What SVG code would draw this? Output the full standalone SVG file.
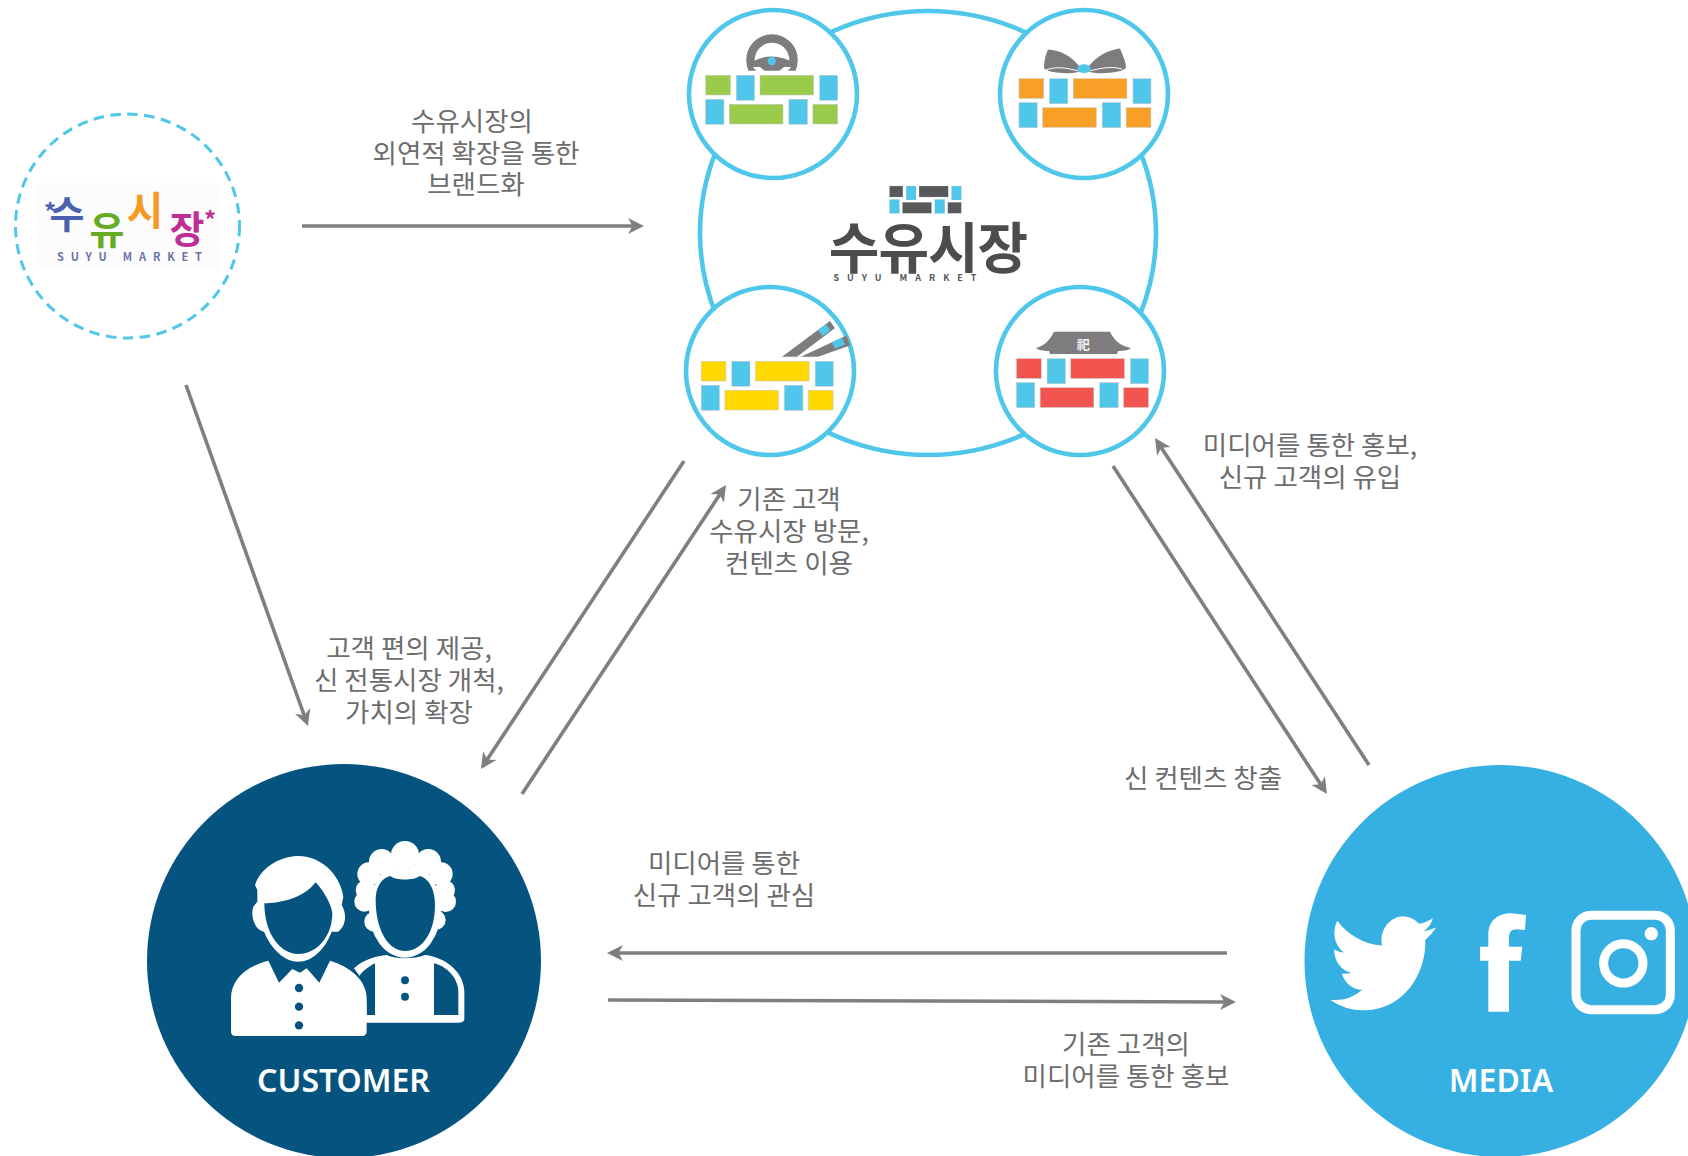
<svg xmlns="http://www.w3.org/2000/svg" xmlns:xlink="http://www.w3.org/1999/xlink" width="1688" height="1156" viewBox="0 0 1688 1156">
<style>
text{font-family:"Noto Sans CJK KR","Noto Sans",sans-serif}
.lbl{font-size:26.500px;fill:#6d6d6d;text-anchor:middle}
.cap{font-size:32px;font-weight:600;fill:#fff;text-anchor:middle;font-family:"Noto Sans","Noto Sans CJK KR",sans-serif}
.conn{stroke:#7f7f7f;stroke-width:3.6;fill:none;marker-end:url(#arrow)}
.ring{fill:#fff;stroke:#4fc7ea;stroke-width:4.6}
.blue{fill:#4fc7ea}
.gray{fill:#7f7c7f}
.br rect{stroke:#c4c4c4;stroke-width:.5}
.wh{fill:#fff}
.dk{fill:#05547f}
.tw{fill:#fff}
</style>
<defs>
<marker id="arrow" markerUnits="userSpaceOnUse" viewBox="-18 -10 20 20" refX="-8" refY="0" markerWidth="20" markerHeight="20" orient="auto">
<path d="M-16,-8 L0,0 L-16,8 L-11.5,0 Z" fill="#7f7f7f"/>
</marker>
<g id="bricks" class="br">
<rect x="0" y="0" width="24.7" height="19.7"/>
<rect class="blue" x="30.6" y="0" width="18.2" height="25"/>
<rect x="54.3" y="0" width="53.6" height="19.7"/>
<rect class="blue" x="114" y="0" width="18" height="25"/>
<rect class="blue" x="0" y="24" width="18.2" height="25"/>
<rect x="23.7" y="29" width="53.6" height="19.7"/>
<rect class="blue" x="83.2" y="24" width="18.5" height="25"/>
<rect x="107.2" y="29" width="24.7" height="19.7"/>
</g>
</defs>
<rect width="1688" height="1156" fill="#fff"/>

<g id="connectors">
<line class="conn" x1="302" y1="226" x2="636" y2="226"/>
<line class="conn" x1="186" y1="385" x2="305.3" y2="718.5"/>
<line class="conn" x1="684" y1="461" x2="485.4" y2="762.3"/>
<line class="conn" x1="522" y1="794" x2="721.6" y2="491.7"/>
<line class="conn" x1="1113" y1="466" x2="1322.6" y2="787.3"/>
<line class="conn" x1="1369" y1="765" x2="1159.4" y2="444.7"/>
<line class="conn" x1="1227" y1="953" x2="615" y2="953"/>
<line class="conn" x1="608" y1="1000" x2="1228" y2="1002"/>
</g>

<g id="node-old-market">
<circle cx="127.500" cy="226" r="112" fill="none" stroke="#4fc7ea" stroke-width="3" stroke-dasharray="10.5 6.5"/>
<rect x="38" y="183" width="182" height="87" fill="#fcfcfd"/>
<text x="67" y="228" font-size="38" font-weight="700" fill="#4a62ad" text-anchor="middle">수</text>
<text x="107" y="244" font-size="38" font-weight="700" fill="#66ab24" text-anchor="middle">유</text>
<text x="145" y="225" font-size="40" font-weight="700" fill="#f59a23" text-anchor="middle">시</text>
<text x="187" y="243" font-size="38" font-weight="700" fill="#bd2f95" text-anchor="middle">장</text>
<text x="50" y="221" font-size="24" font-weight="700" fill="#4a62ad" text-anchor="middle">*</text>
<text x="210" y="229" font-size="24" font-weight="700" fill="#bd2f95" text-anchor="middle">*</text>
<text x="57" y="261" font-size="11" font-weight="700" fill="#6a74a8" letter-spacing="6.8">SUYU MARKET</text>
</g>

<g id="node-suyu-market">
<ellipse class="ring" cx="928" cy="233" rx="228" ry="222"/>
<use href="#bricks" fill="#58595b" transform="translate(889.500,186) scale(.544,.56)"/>
<text x="928" y="268" font-size="55" font-weight="700" fill="#4d4d4f" text-anchor="middle" letter-spacing="-1">수유시장</text>
<text x="833.5" y="281" font-size="9" font-weight="700" fill="#555" letter-spacing="8">SUYU MARKET</text>
</g>

<g id="node-drive">
<circle class="ring" cx="773" cy="94" r="84"/>
<clipPath id="cw"><rect x="740" y="30" width="64" height="40.7"/></clipPath>
<g clip-path="url(#cw)">
<circle cx="772" cy="60" r="21.500" fill="none" stroke="#7f7c7f" stroke-width="8.5"/>
<path class="gray" d="M750,63 Q772,50 794,63 L792,68 L781,71 L763,71 L752,68 Z"/>
<path fill="#fff" d="M756,71 L753,67 L760,67 L765,71 Z M788,71 L791,67 L784,67 L779,71 Z"/>
</g>
<circle class="blue" cx="771.7" cy="61" r="4.2"/>
<use href="#bricks" x="705.7" y="75.3" fill="#9bcb4b"/>
</g>

<g id="node-gift">
<circle class="ring" cx="1084" cy="94" r="84"/>
<path class="gray" d="M1079,66 C1071,56 1060,50 1048,49.5 C1045,56 1044,62 1044,68 C1046,72 1065,75 1079,72 Z"/>
<path class="gray" d="M1089,66 C1097,56 1108,50 1120,48.5 C1123,56 1126,62 1126,68 C1122,72 1104,75 1089,72 Z"/>
<path d="M1046,70 C1056,66 1068,68 1078,71 M1122,69 C1112,66 1100,68 1090,71" fill="none" stroke="#fff" stroke-width="1"/>
<ellipse class="blue" cx="1084" cy="68.7" rx="6.8" ry="4.4"/>
<use href="#bricks" x="1019" y="78.7" fill="#f79f26"/>
</g>

<g id="node-food">
<circle class="ring" cx="770" cy="371" r="84"/>
<path class="gray" d="M782,356.7 L830,321 L835,328 L797,356.7 Z"/>
<path class="gray" d="M800.9,356.7 L846.5,335.5 L850,345.5 L818,356.7 Z"/>
<path class="blue" d="M818,330 L826,324.2 L830,330.5 L822.5,336 Z"/>
<path class="blue" d="M832,342 L842,337.6 L845,344.5 L835,348.5 Z"/>
<use href="#bricks" x="701.2" y="361.3" fill="#ffd900"/>
</g>

<g id="node-heritage">
<circle class="ring" cx="1080" cy="371" r="84"/>
<path class="gray" d="M1054,331.7 L1110,331.7 C1114,340 1120,346 1131,348 C1128,351 1120,351 1118,351 L1117,354 L1050,354 L1049,351 C1046,351 1039,351 1036,348 C1044,346 1050,340 1054,331.7 Z"/>
<text x="1083.3" y="349" font-size="13" font-weight="700" fill="#f2f2f2" text-anchor="middle">祀</text>
<use href="#bricks" x="1016.500" y="358.7" fill="#f25450"/>
</g>

<g id="node-customer">
<circle class="dk" cx="344" cy="961" r="197"/>
<g transform="translate(130,750) scale(.33333)">
<g class="wh">
<circle cx="825" cy="315" r="42"/><circle cx="755" cy="335" r="38"/><circle cx="895" cy="335" r="38"/>
<circle cx="717" cy="372" r="35"/><circle cx="933" cy="372" r="35"/><circle cx="707" cy="420" r="30"/><circle cx="945" cy="420" r="30"/>
<circle cx="703" cy="455" r="30"/><circle cx="947" cy="455" r="31"/><circle cx="733" cy="515" r="30"/><circle cx="917" cy="510" r="30"/>
<ellipse cx="825" cy="480" rx="108" ry="143"/>
</g>
<path class="dk" d="M737,450 C737,410 755,385 780,378 C800,392 850,392 870,378 C895,385 915,415 915,465 C915,550 875,603 825,603 C775,603 737,540 737,450Z"/>
<path class="wh" d="M672,655 C700,628 740,618 770,615 C800,628 850,628 885,615 C950,622 1003,670 1003,725 L1003,808 C1003,815 995,818 985,818 L705,818 L705,700 Z"/>
<path class="dk" d="M735,640 L735,795 L710,795 C710,740 705,710 685,682 C700,660 720,648 735,640Z"/>
<path class="dk" d="M912,640 C955,650 985,690 985,725 L985,795 L912,795Z"/>
<circle class="dk" cx="825" cy="691" r="12"/><circle class="dk" cx="825" cy="740" r="12"/>
<path class="wh" d="M375,405 C395,345 460,318 505,318 C570,318 630,370 640,440 L635,465 C650,490 650,525 625,545 L605,545 C585,600 545,635 505,635 C465,635 425,600 402,545 C375,540 360,500 370,470 L382,455 L382,420 Z"/>
<path class="dk" d="M403,460 C450,460 520,445 557,397 C580,420 605,465 607,490 C607,560 560,612 505,612 C450,612 403,550 403,460 Z"/>
<path class="wh" d="M303,845 L303,745 C303,690 345,650 415,632 L447,698 L487,657 L510,668 L530,655 L568,698 L600,632 C660,650 710,690 710,745 L710,845 C710,853 703,858 695,858 L318,858 C308,858 303,853 303,845 Z"/>
<circle class="dk" cx="507" cy="714" r="12.5"/><circle class="dk" cx="507" cy="770" r="12.5"/><circle class="dk" cx="507" cy="826" r="12.5"/>
</g>
<text class="cap" x="343.500" y="1092">CUSTOMER</text>
</g>

<g id="node-media">
<circle fill="#36b0e2" cx="1500.500" cy="961" r="196"/>
<path class="tw" transform="translate(1330,905.5) scale(4.42,4.82)" d="M23.953 4.57a10 10 0 01-2.825.775 4.958 4.958 0 002.163-2.723c-.951.555-2.005.959-3.127 1.184a4.92 4.92 0 00-8.384 4.482C7.69 8.095 4.067 6.13 1.64 3.162a4.822 4.822 0 00-.666 2.475c0 1.71.87 3.213 2.188 4.096a4.904 4.904 0 01-2.228-.616v.06a4.923 4.923 0 003.946 4.827 4.996 4.996 0 01-2.212.085 4.936 4.936 0 004.604 3.417 9.867 9.867 0 01-6.102 2.105c-.39 0-.779-.023-1.17-.067a13.995 13.995 0 007.557 2.209c9.053 0 13.998-7.496 13.998-13.985 0-.21 0-.42-.015-.63A9.935 9.935 0 0024 4.59z"/>
<g transform="translate(1290,750) scale(.33333)">
<path class="tw" d="M595,785 L595,632 L570,632 L570,590 L595,590 L595,555 C595,510 625,490 665,490 L708,495 L705,540 L680,538 C660,538 657,550 657,565 L657,590 L697,590 L692,632 L657,632 L657,785 Z"/>
<rect x="858" y="496" width="283" height="283" rx="45" fill="none" stroke="#fff" stroke-width="27"/>
<circle cx="1000" cy="640" r="59" fill="none" stroke="#fff" stroke-width="27"/>
<circle class="tw" cx="1084" cy="551" r="20"/>
</g>
<text class="cap" x="1501" y="1092">MEDIA</text>
</g>

<g id="labels">
<text class="lbl" x="472" y="131">수유시장의</text>
<text class="lbl" x="476" y="163">외연적 확장을 통한</text>
<text class="lbl" x="476" y="194">브랜드화</text>
<text class="lbl" x="789" y="509">기존 고객</text>
<text class="lbl" x="789" y="541">수유시장 방문,</text>
<text class="lbl" x="789" y="573">컨텐츠 이용</text>
<text class="lbl" x="1310" y="455">미디어를 통한 홍보,</text>
<text class="lbl" x="1310" y="487">신규 고객의 유입</text>
<text class="lbl" x="409" y="658">고객 편의 제공,</text>
<text class="lbl" x="409" y="690">신 전통시장 개척,</text>
<text class="lbl" x="409" y="722">가치의 확장</text>
<text class="lbl" x="1203" y="788">신 컨텐츠 창출</text>
<text class="lbl" x="724" y="873">미디어를 통한</text>
<text class="lbl" x="724" y="905">신규 고객의 관심</text>
<text class="lbl" x="1126" y="1054">기존 고객의</text>
<text class="lbl" x="1126" y="1086">미디어를 통한 홍보</text>
</g>
</svg>
